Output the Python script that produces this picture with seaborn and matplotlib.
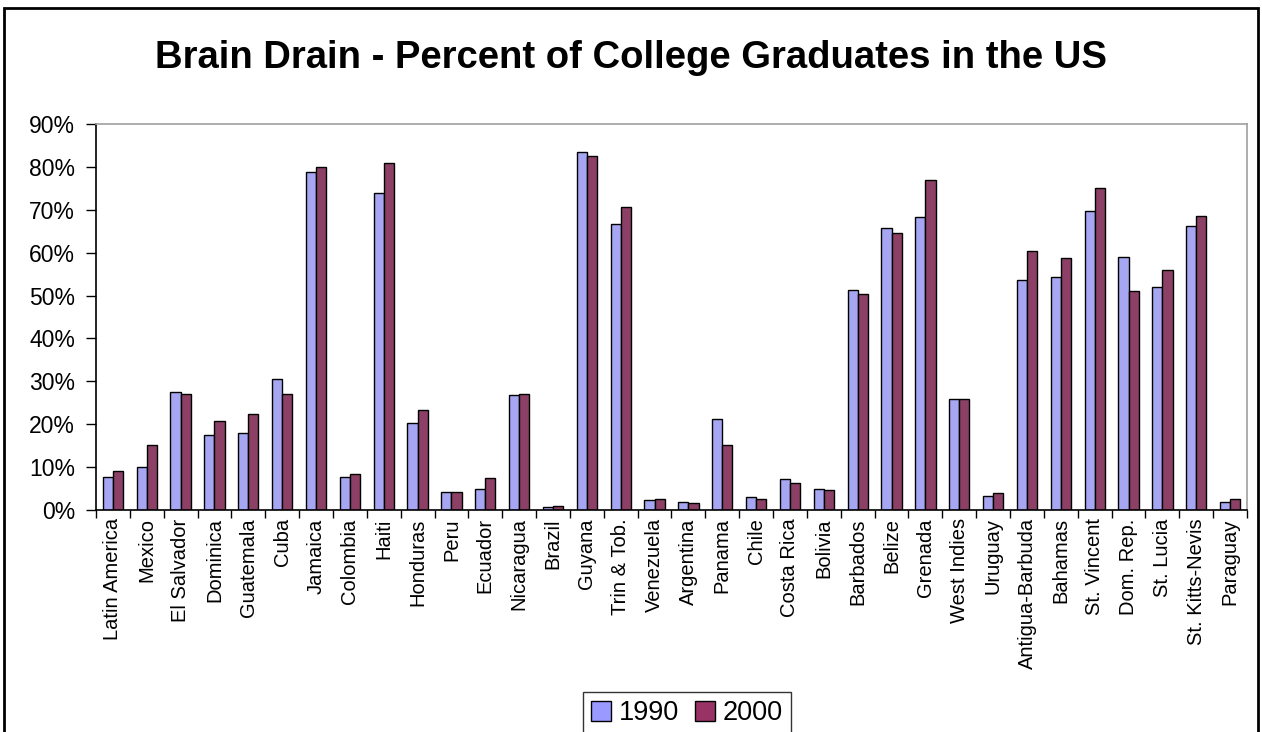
import pandas as pd
import numpy as np
import matplotlib
matplotlib.use("Agg")
import matplotlib.pyplot as plt
import seaborn as sns
from matplotlib.patches import Rectangle
from matplotlib.ticker import PercentFormatter, FixedLocator

countries = ["Latin America", "Mexico", "El Salvador", "Dominica", "Guatemala", "Cuba",
             "Jamaica", "Colombia", "Haiti", "Honduras", "Peru", "Ecuador", "Nicaragua",
             "Brazil", "Guyana", "Trin & Tob.", "Venezuela", "Argentina", "Panama", "Chile",
             "Costa Rica", "Bolivia", "Barbados", "Belize", "Grenada", "West Indies",
             "Uruguay", "Antigua-Barbuda", "Bahamas", "St. Vincent", "Dom. Rep.",
             "St. Lucia", "St. Kitts-Nevis", "Paraguay"]
# values in percent
v1990 = [7.8, 10.1, 27.5, 17.4, 18.0, 30.5, 78.7, 7.8, 74.0, 20.3, 4.3, 5.0, 26.8,
         0.6, 83.5, 66.8, 2.3, 1.9, 21.2, 3.0, 7.2, 5.0, 51.4, 65.8, 68.4, 25.9,
         3.3, 53.7, 54.4, 69.8, 59.0, 52.1, 66.2, 1.9]
v2000 = [9.2, 15.1, 27.1, 20.7, 22.3, 27.1, 79.9, 8.5, 80.9, 23.3, 4.3, 7.5, 27.1,
         0.9, 82.5, 70.7, 2.6, 1.6, 15.1, 2.6, 6.2, 4.6, 50.4, 64.5, 76.9, 25.9,
         3.9, 60.5, 58.7, 75.0, 51.1, 56.0, 68.5, 2.5]
years = ["1990", "2000"]
colors = ["#9999FF", "#993366"]

df = pd.DataFrame({"country": countries * 2,
                   "year": [years[0]] * len(countries) + [years[1]] * len(countries),
                   "value": v1990 + v2000})

sns.set_theme(style="white")
plt.rcParams['font.family'] = ['Liberation Sans', 'DejaVu Sans']
plt.rcParams['text.color'] = 'black'
plt.rcParams['xtick.color'] = 'black'
plt.rcParams['ytick.color'] = 'black'

fig = plt.figure(figsize=(12.62, 7.32), dpi=100)
ax = fig.add_axes([96 / 1262, 1 - 510 / 732, (1247 - 96) / 1262, (510 - 124) / 732])

sns.barplot(data=df, x="country", y="value", hue="year", palette=colors,
            width=0.6, edgecolor="black", linewidth=1, ax=ax, legend=False)

n = len(countries)
ax.set_xlim(-0.5, n - 0.5)
ax.set_ylim(0, 90)
ax.set_yticks(np.arange(0, 91, 10))
ax.yaxis.set_major_formatter(PercentFormatter(decimals=0))
ax.tick_params(axis="y", labelsize=16.5, length=7, width=1,
               direction="out", left=True, pad=8)
ax.set_xticks(range(n))
ax.set_xticklabels(countries, rotation=90, fontsize=14.5)
ax.tick_params(axis="x", which="major", length=0, pad=6)
ax.xaxis.set_minor_locator(FixedLocator(np.arange(-0.5, n, 1)))
ax.tick_params(axis="x", which="minor", length=6, width=1,
               direction="out", bottom=True)
ax.set_xlabel("")
ax.set_ylabel("")

ax.spines["left"].set_color("black")
ax.spines["bottom"].set_color("black")
ax.spines["top"].set_color("#A0A0A0")
ax.spines["right"].set_color("#A0A0A0")
for s in ax.spines.values():
    s.set_linewidth(1.2)

fig.text(0.5, 1 - 58 / 732, "Brain Drain - Percent of College Graduates in the US",
         ha="center", va="center", fontsize=27.5, fontweight="bold")

handles = [Rectangle((0, 0), 1, 1, facecolor=c, edgecolor="black", linewidth=1)
           for c in colors]
leg = fig.legend(handles, years, loc="upper center", ncol=2,
                 bbox_to_anchor=(687 / 1262, 1 - 692 / 732), fontsize=19.5,
                 frameon=True, fancybox=False, handlelength=0.75, handleheight=0.75,
                 handletextpad=0.3, columnspacing=0.55, borderpad=0.3, borderaxespad=0)
leg.get_frame().set_edgecolor("black")
leg.get_frame().set_linewidth(1)

fig.patches.append(Rectangle((4 / 1262, -0.01), 1254 / 1262, 1 - 8 / 732 + 0.01,
                             transform=fig.transFigure, fill=False,
                             edgecolor="black", linewidth=2))

fig.savefig("out.png", dpi=100)
